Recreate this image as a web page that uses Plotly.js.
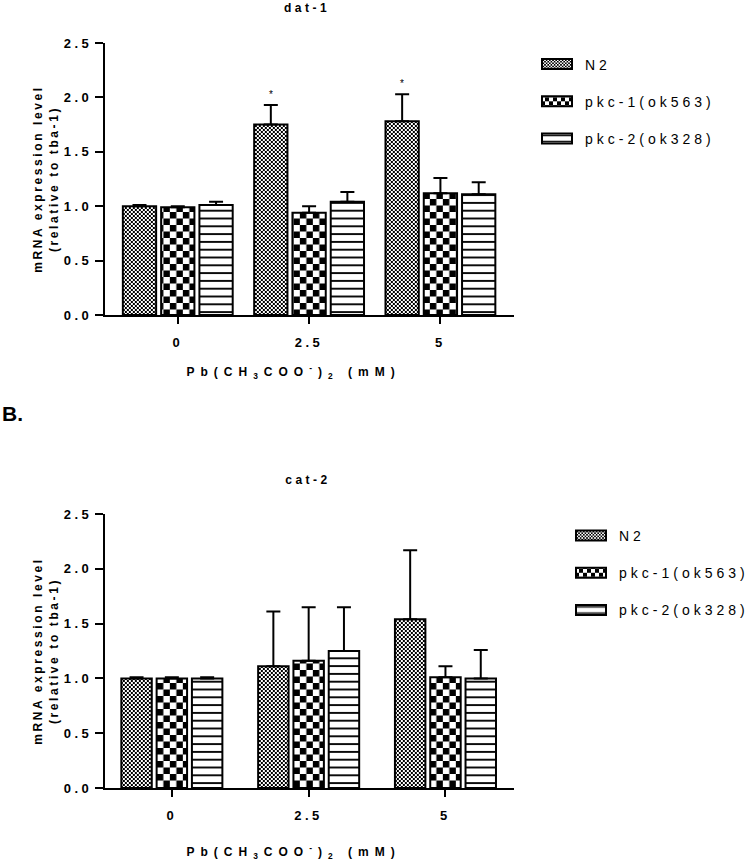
<!DOCTYPE html>
<html>
<head>
<meta charset="utf-8">
<script src="https://cdn.plot.ly/plotly-3.0.1.min.js"></script>
<style>
  body { margin: 0; background: #fff; }
  #chart { width: 754px; height: 866px; }
  .xaxislayer-above text, .yaxislayer-above text { letter-spacing: 3.5px; }
  .g-ytitle text, .g-y2title text { letter-spacing: 2.6px; }
  .g-xtitle text, .g-x2title text { letter-spacing: 6px; }
  .g-xtitle, .g-x2title { transform: translateX(-16px); }
  .legendtext { letter-spacing: 4px; }
  .gtitle { letter-spacing: 3.5px; }
  .annotation[data-index="0"] .annotation-text { letter-spacing: 3.5px; }
</style>
</head>
<body>
<div id="chart"></div>
<script>
// ---- data ----
const categories = ['0', '2.5', '5'];
const seriesNames = ['N2', 'pkc-1(ok563)', 'pkc-2(ok328)'];

// A. dat-1
const datN2      = [1.00, 1.75, 1.78];
const datN2Err   = [0.01, 0.18, 0.25];
const datPkc1    = [0.99, 0.94, 1.12];
const datPkc1Err = [0.01, 0.06, 0.14];
const datPkc2    = [1.01, 1.04, 1.11];
const datPkc2Err = [0.03, 0.09, 0.11];
const datN2Sig   = ['', '*', '*'];

// B. cat-2
const catN2      = [1.00, 1.11, 1.54];
const catN2Err   = [0.01, 0.50, 0.63];
const catPkc1    = [1.00, 1.16, 1.01];
const catPkc1Err = [0.01, 0.49, 0.10];
const catPkc2    = [1.00, 1.25, 1.00];
const catPkc2Err = [0.01, 0.40, 0.26];

const yTickVals = [0, 0.5, 1.0, 1.5, 2.0, 2.5];
const yTickText = ['0.0', '0.5', '1.0', '1.5', '2.0', '2.5'];

// ---- styles ----
const FONT = 'Liberation Sans, Arial, sans-serif';
const patterns = [
  {shape: '.', size: 4, solidity: 0.5},   // N2: fine checker (rewritten below)
  {shape: '.', size: 13, solidity: 0.5},  // pkc-1: coarse checker
  {shape: '-', size: 7.8, solidity: 0.24} // pkc-2: horizontal lines
];

function makeTraces(vals, errs, xa, ya, legendId, barW, offsets, prefix) {
  return vals.map((v, i) => ({
    type: 'bar',
    x: categories,
    y: v,
    name: seriesNames[i],
    xaxis: xa, yaxis: ya,
    legend: legendId,
    legendgroup: prefix + i,
    width: barW,
    offset: offsets[i],
    marker: {
      color: 'white',
      line: {color: 'black', width: 2},
      pattern: Object.assign({fillmode: 'replace', bgcolor: 'white', fgcolor: 'black'}, patterns[i])
    },
    error_y: {
      type: 'data', symmetric: false,
      array: errs[i], arrayminus: errs[i].map(() => 0),
      color: 'black', thickness: 2, width: 7
    },
    hoverinfo: 'skip'
  }));
}

const topTraces = makeTraces([datN2, datPkc1, datPkc2], [datN2Err, datPkc1Err, datPkc2Err],
  'x', 'y', 'legend', 0.2535, [-0.418, -0.1265, 0.165], 'a');
const botTraces = makeTraces([catN2, catPkc1, catPkc2], [catN2Err, catPkc1Err, catPkc2Err],
  'x2', 'y2', 'legend2', 0.2226, [-0.3686, -0.1106, 0.1474], 'b');

const W = 754, H = 866;
const xDom = [105 / W, 515 / W];

function xAxis(range, standoff, anchor) {
  return {
    type: 'category', domain: xDom, range: range, anchor: anchor,
    showline: true, linecolor: 'black', linewidth: 2,
    ticks: 'outside', ticklen: 7, tickwidth: 2, tickcolor: 'black',
    ticklabelstandoff: 7,
    tickfont: {family: FONT, size: 13, color: 'black', weight: 'bold'},
    showgrid: false, zeroline: false, fixedrange: true,
    title: {
      text: 'Pb(CH<sub>3</sub>COO<sup>-</sup>)<sub>2</sub> (mM)',
      font: {family: FONT, size: 12, color: 'black', weight: 'bold'},
      standoff: standoff
    }
  };
}
function yAxis(domain, anchor) {
  return {
    domain: domain, range: [0, 2.5], anchor: anchor,
    tickvals: yTickVals, ticktext: yTickText,
    showline: true, linecolor: 'black', linewidth: 2,
    ticks: 'outside', ticklen: 8, tickwidth: 2, tickcolor: 'black',
    tickfont: {family: FONT, size: 13, color: 'black', weight: 'bold'},
    showgrid: false, zeroline: false, fixedrange: true,
    title: {
      text: 'mRNA expression level<br>(relative to tba-1)',
      font: {family: FONT, size: 12, color: 'black', weight: 'bold'},
      standoff: 13
    }
  };
}

const annotations = [
  {text: 'cat-2', xref: 'paper', yref: 'paper', x: 308 / W, y: 1 - 480 / H,
   xanchor: 'center', yanchor: 'middle', showarrow: false,
   font: {family: FONT, size: 12, color: 'black', weight: 'bold'}},
  {text: 'B.', xref: 'paper', yref: 'paper', x: 0, y: 1 - 413 / H,
   xanchor: 'left', yanchor: 'middle', showarrow: false,
   font: {family: FONT, size: 21, color: 'black', weight: 'bold'}}
];
datN2Sig.forEach((s, i) => {
  if (!s) return;
  annotations.push({
    text: s, xref: 'x', yref: 'y', x: i + (-0.418 + 0.2535 / 2), y: datN2[i] + datN2Err[i],
    xanchor: 'center', yanchor: 'bottom', yshift: 3, showarrow: false,
    font: {family: FONT, size: 10, color: 'black'}
  });
});

const legendBase = {
  font: {family: FONT, size: 14, color: 'black'},
  bgcolor: 'rgba(0,0,0,0)', borderwidth: 0,
  itemwidth: 46, tracegroupgap: 16,
  xanchor: 'left', yanchor: 'top'
};

const layout = {
  width: W, height: H,
  margin: {l: 0, r: 0, t: 0, b: 0},
  paper_bgcolor: 'white', plot_bgcolor: 'white',
  barmode: 'overlay',
  font: {family: FONT, color: 'black'},
  title: {text: 'dat-1', x: 307 / W, y: 1 - 8 / H, xanchor: 'center', yanchor: 'middle',
          font: {family: FONT, size: 12, color: 'black', weight: 'bold'}},
  xaxis: xAxis([-0.555, 2.563], 19, 'y'),
  yaxis: yAxis([1 - 315 / H, 1 - 43 / H], 'x'),
  xaxis2: xAxis([-0.489, 2.504], 26, 'y2'),
  yaxis2: yAxis([1 - 788 / H, 1 - 514 / H], 'x2'),
  showlegend: true,
  legend: Object.assign({}, legendBase, {x: 529 / W, y: 1 - 48.5 / H}),
  legend2: Object.assign({}, legendBase, {x: 564 / W, y: 1 - 520 / H}),
  annotations: annotations,
  shapes: [
    {type: 'line', xref: 'paper', yref: 'y', x0: 97 / W, x1: 105 / W, y0: 0, y1: 0,
     line: {color: 'black', width: 2}},
    {type: 'line', xref: 'paper', yref: 'y2', x0: 97 / W, x1: 105 / W, y0: 0, y1: 0,
     line: {color: 'black', width: 2}}
  ]
};

function finish(gd) {
  const NS = 'http://www.w3.org/2000/svg';
  // turn dot patterns into checkerboards
  gd.querySelectorAll('pattern').forEach(p => {
    if (!p.querySelector('circle')) return;
    const s = parseFloat(p.getAttribute('width'));
    const h = s / 2;
    while (p.firstChild) p.removeChild(p.firstChild);
    const rect = (x, y, w, hh, fill) => {
      const r = document.createElementNS(NS, 'rect');
      r.setAttribute('x', x); r.setAttribute('y', y);
      r.setAttribute('width', w); r.setAttribute('height', hh);
      r.setAttribute('fill', fill);
      p.appendChild(r);
    };
    rect(0, 0, s, s, '#fff');
    rect(0, 0, h, h, '#000');
    rect(h, h, h, h, '#000');
  });
  // wide legend swatches
  gd.querySelectorAll('.legendpoints path').forEach(path => {
    path.setAttribute('d', 'M15,5H-15V-5H15Z');
  });
  // tracked legend text (both legends)
  gd.querySelectorAll('text').forEach(t => {
    if (seriesNames.indexOf(t.textContent.trim()) >= 0) {
      t.style.letterSpacing = '4px';
      t.setAttribute('letter-spacing', '4');
    }
  });
}

Plotly.newPlot('chart', topTraces.concat(botTraces), layout, {staticPlot: true, displayModeBar: false})
  .then(gd => {
    finish(gd);
    setTimeout(() => finish(gd), 50);
  });
</script>
</body>
</html>
